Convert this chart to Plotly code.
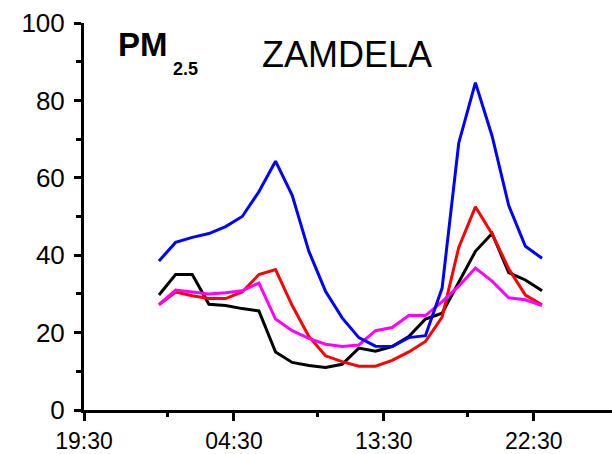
import plotly.graph_objects as go

# hours since 19:30 of previous day; hourly data 00:00 .. 23:00
hours = [4.5 + i for i in range(24)]

blue = [38.5, 43.3, 44.6, 45.6, 47.4, 50.0, 56.4, 64.3, 55.5, 41.0, 30.7, 23.8,
        18.7, 16.5, 16.4, 18.7, 19.2, 31.5, 69.0, 84.6, 70.8, 52.8, 42.3, 39.2]
black = [29.7, 35.0, 35.0, 27.3, 27.0, 26.2, 25.6, 15.0, 12.3, 11.5, 11.0, 11.8,
         16.0, 15.2, 16.4, 19.0, 23.5, 25.0, 33.0, 41.0, 45.6, 35.5, 33.6, 30.8]
red = [27.2, 30.5, 29.5, 28.8, 28.8, 30.5, 35.0, 36.3, 27.0, 19.0, 14.0, 12.5,
       11.3, 11.3, 12.8, 15.0, 17.7, 24.0, 42.0, 52.5, 45.5, 36.5, 29.7, 27.2]
magenta = [27.2, 31.0, 30.5, 30.0, 30.3, 30.8, 32.8, 23.5, 20.5, 18.5, 17.0, 16.4,
           16.8, 20.5, 21.3, 24.4, 24.4, 28.0, 32.0, 36.7, 33.3, 29.0, 28.5, 27.0]

x_tickvals = [0, 9, 18, 27]
x_ticktext = ["19:30", "04:30", "13:30", "22:30"]
x_minor = [5, 14, 23]
y_tickvals = [0, 20, 40, 60, 80, 100]
y_minor = [10, 30, 50, 70, 90]

fig = go.Figure()
for ys, col in [(black, "#000000"), (red, "#FF0000"), (magenta, "#FF00FF"), (blue, "#0000FF")]:
    fig.add_trace(go.Scatter(x=hours, y=ys, mode="lines",
                             line=dict(color=col, width=3), showlegend=False))

fig.update_layout(
    width=612, height=454,
    margin=dict(l=84, r=0, t=23, b=41),
    plot_bgcolor="white", paper_bgcolor="white",
    font=dict(family="Liberation Sans, Arial, sans-serif", color="black"),
)
fig.update_xaxes(
    range=[0, 31.7], showgrid=False, zeroline=False,
    showline=True, linecolor="black", linewidth=3,
    ticks="outside", ticklen=8, tickwidth=3, tickcolor="black",
    tickvals=x_tickvals, ticktext=x_ticktext, tickfont=dict(size=23),
    minor=dict(tickvals=x_minor, ticklen=4, tickwidth=3, tickcolor="black", ticks="outside"),
)
fig.update_yaxes(
    range=[0, 100], showgrid=False, zeroline=False,
    showline=True, linecolor="black", linewidth=3,
    ticks="outside", ticklen=7, tickwidth=3, tickcolor="black",
    tickvals=y_tickvals, tickfont=dict(size=26), ticklabelstandoff=4,
    minor=dict(tickvals=y_minor, ticklen=5, tickwidth=3, tickcolor="black", ticks="outside"),
)

fig.add_annotation(x=1.95, y=94.4, xref="x", yref="y", text="<b>PM</b>",
                   showarrow=False, xanchor="left", yanchor="middle",
                   font=dict(size=33, color="black"))
fig.add_annotation(x=5.25, y=88.2, xref="x", yref="y", text="<b>2.5</b>",
                   showarrow=False, xanchor="left", yanchor="middle",
                   font=dict(size=18, color="black"))
fig.add_annotation(x=15.8, y=91.8, xref="x", yref="y", text="ZAMDELA",
                   showarrow=False, xanchor="center", yanchor="middle",
                   font=dict(size=36, color="black"))

fig.write_html("out.html")
